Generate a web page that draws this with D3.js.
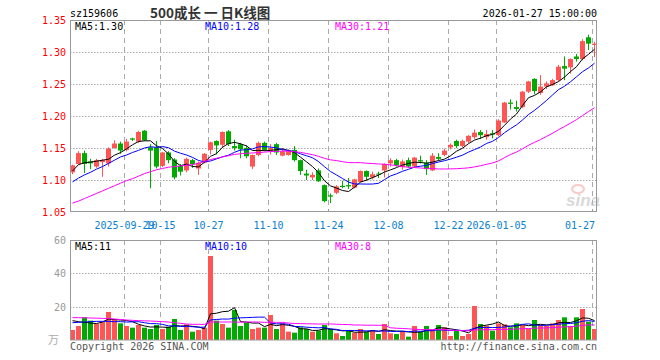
<!DOCTYPE html>
<html><head><meta charset="utf-8">
<script src="https://cdn.jsdelivr.net/npm/d3@7"></script>
<style>body{margin:0;background:#fff}svg{display:block}</style>
</head><body><svg id="c" width="660" height="360"></svg>
<script>
const dates = ["2025-09-16","2025-09-17","2025-09-18","2025-09-19","2025-09-22","2025-09-23","2025-09-24","2025-09-25","2025-09-26","2025-09-29","2025-09-30",
"2025-10-09","2025-10-10","2025-10-13","2025-10-14","2025-10-15","2025-10-16","2025-10-17","2025-10-20","2025-10-21","2025-10-22","2025-10-23","2025-10-24","2025-10-27","2025-10-28","2025-10-29","2025-10-30","2025-10-31",
"2025-11-03","2025-11-04","2025-11-05","2025-11-06","2025-11-07","2025-11-10","2025-11-11","2025-11-12","2025-11-13","2025-11-14","2025-11-17","2025-11-18","2025-11-19","2025-11-20","2025-11-21","2025-11-24","2025-11-25","2025-11-26","2025-11-27","2025-11-28",
"2025-12-01","2025-12-02","2025-12-03","2025-12-04","2025-12-05","2025-12-08","2025-12-09","2025-12-10","2025-12-11","2025-12-12","2025-12-15","2025-12-16","2025-12-17","2025-12-18","2025-12-19","2025-12-22","2025-12-23","2025-12-24","2025-12-25","2025-12-26","2025-12-29","2025-12-30","2025-12-31",
"2026-01-05","2026-01-06","2026-01-07","2026-01-08","2026-01-09","2026-01-12","2026-01-13","2026-01-14","2026-01-15","2026-01-16","2026-01-19","2026-01-20","2026-01-21","2026-01-22","2026-01-23","2026-01-26","2026-01-27"];
const opens  = [1.112,1.125,1.142,1.129,1.121,1.128,1.126,1.150,1.157,1.147,1.165,1.160,1.177,1.151,1.151,1.122,1.143,1.132,1.122,1.115,1.131,1.118,1.127,1.147,1.161,1.155,1.176,1.153,1.156,1.150,1.121,1.139,1.158,1.146,1.156,1.138,1.139,1.147,1.131,1.110,1.104,1.115,1.092,1.076,1.080,1.091,1.092,1.088,1.097,1.114,1.104,1.110,1.115,1.126,1.131,1.120,1.131,1.121,1.131,1.127,1.115,1.136,1.139,1.151,1.161,1.153,1.160,1.167,1.175,1.167,1.173,1.170,1.190,1.221,1.214,1.214,1.238,1.258,1.236,1.246,1.248,1.256,1.278,1.276,1.293,1.289,1.323,1.311];
const highs  = [1.124,1.145,1.146,1.133,1.133,1.133,1.151,1.162,1.160,1.164,1.166,1.177,1.178,1.156,1.161,1.144,1.145,1.134,1.125,1.135,1.133,1.129,1.142,1.160,1.162,1.176,1.178,1.163,1.158,1.154,1.140,1.160,1.160,1.156,1.158,1.150,1.148,1.153,1.132,1.116,1.112,1.118,1.093,1.079,1.092,1.099,1.103,1.102,1.115,1.115,1.113,1.113,1.126,1.134,1.133,1.132,1.135,1.136,1.138,1.131,1.142,1.142,1.149,1.157,1.163,1.163,1.170,1.179,1.178,1.178,1.178,1.195,1.222,1.226,1.224,1.239,1.255,1.259,1.264,1.254,1.258,1.280,1.293,1.290,1.297,1.320,1.327,1.316];
const lows   = [1.109,1.124,1.111,1.117,1.119,1.105,1.121,1.149,1.141,1.145,1.161,1.158,1.161,1.087,1.118,1.120,1.126,1.101,1.107,1.112,1.119,1.108,1.126,1.140,1.140,1.150,1.153,1.146,1.134,1.134,1.117,1.137,1.145,1.140,1.139,1.137,1.138,1.129,1.108,1.100,1.100,1.097,1.065,1.064,1.078,1.087,1.086,1.087,1.096,1.099,1.101,1.103,1.104,1.121,1.121,1.116,1.119,1.119,1.126,1.108,1.114,1.131,1.137,1.148,1.150,1.151,1.158,1.164,1.164,1.163,1.165,1.168,1.189,1.210,1.207,1.212,1.236,1.234,1.233,1.242,1.247,1.254,1.256,1.266,1.285,1.287,1.303,1.292];
const closes = [1.123,1.142,1.125,1.126,1.131,1.131,1.149,1.157,1.146,1.160,1.163,1.175,1.162,1.146,1.121,1.143,1.131,1.104,1.113,1.133,1.125,1.127,1.141,1.159,1.154,1.175,1.156,1.150,1.148,1.137,1.139,1.158,1.147,1.150,1.143,1.145,1.145,1.131,1.114,1.107,1.108,1.098,1.067,1.074,1.090,1.089,1.090,1.101,1.114,1.105,1.109,1.109,1.125,1.131,1.123,1.129,1.121,1.135,1.129,1.117,1.138,1.133,1.146,1.155,1.153,1.161,1.169,1.174,1.170,1.172,1.171,1.193,1.221,1.219,1.211,1.238,1.254,1.239,1.246,1.251,1.256,1.277,1.274,1.289,1.289,1.317,1.313,1.313];
const volumes = [6.0,8.4,13.6,11.6,9.6,11.0,16.8,12.4,10.0,8.4,7.4,9.0,7.4,6.6,9.0,6.6,8.0,12.6,6.0,9.4,5.0,6.0,7.4,50.4,11.6,9.6,7.4,18.0,8.4,10.4,6.6,7.4,7.4,15.0,6.6,10.0,5.0,4.4,7.6,6.6,5.0,5.6,9.0,6.6,4.0,2.4,6.0,4.4,6.6,5.0,6.0,3.6,9.6,4.0,3.6,5.0,2.0,8.4,5.0,8.4,6.0,9.0,7.6,2.4,5.6,2.4,3.6,20.4,9.6,8.6,5.6,10.0,9.4,7.6,10.0,9.0,7.0,12.0,9.0,8.4,10.0,12.0,13.6,8.4,13.6,18.6,11.0,6.6];
// moving-average values for days before enough history exists
const ma5Head  = [1.114,1.124,1.127,1.128];
const ma10Head = [1.097,1.103,1.108,1.112,1.117,1.121,1.126,1.131,1.136];
const ma30Head = [1.064,1.067,1.071,1.075,1.079,1.083,1.087,1.091,1.095,1.099,1.102,1.106,1.110,1.113,1.116,1.118,1.120,1.121,1.122,1.123,1.124,1.126,1.129,1.132,1.134,1.136,1.138,1.140,1.141];
const volMa5Head  = [11.6,11.0,10.6,10.2];
const volMa10Head = [10.4,10.6,10.8,11.0,11.2,11.2,11.2,11.0,11.0];
const volMa30Head = [13.4,13.4,13.3,13.2,13.1,13.0,12.8,12.6,12.3,12.0,11.8,11.6,11.5,11.4,11.2,11.0,10.8,10.4,10.0,9.6,9.4,9.4,9.4,10.8,10.8,10.8,10.8,10.8,10.7];
const priceTicks = [1.35,1.30,1.25,1.20,1.15,1.10,1.05];
const volTicks = [60,40,20];
const xTickDates  = ["2025-09-29","2025-10-15","2025-10-27","2025-11-10","2025-11-24","2025-12-08","2025-12-22","2026-01-05","2026-01-27"];
const xTickLabels = ["2025-09-29","10-15","10-27","11-10","11-24","12-08","12-22","2026-01-05","01-27"];
const codeText = "sz159606", titleText = "500成长 一 日K线图", timeText = "2026-01-27 15:00:00";
const priceMaLabels = ["MA5:1.30","MA10:1.28","MA30:1.21"];
const volMaLabels = ["MA5:11","MA10:10","MA30:8"];
const volUnit = "万";

const L = 70, R = 597, T = 20, B = 212, VT = 240, VB = 340;
const RED = "#ff5555", GREEN = "#00aa00", MAC = ["#000000","#0000ff","#ff00ff"];
const MONO = "'DejaVu Sans Mono', monospace";

const svg = d3.select("#c");
const x = d3.scalePoint().domain(dates).range([72.5, 594.5]);
const y = d3.scaleLinear().domain([1.05, 1.35]).range([B, T]);
const yv = d3.scaleLinear().domain([0, 60]).range([VB, VT]);

function ma(vals, n, head) {
  return vals.map((v, i) => i < n - 1 ? head[i] : d3.mean(vals.slice(i - n + 1, i + 1)));
}

// grids
const g = svg.append("g");
priceTicks.slice(1, -1).forEach(t => {
  const yy = Math.round(y(t)) + 0.5;
  g.append("line").attr("x1", L).attr("x2", R).attr("y1", yy).attr("y2", yy)
    .attr("stroke", "#aaa").attr("stroke-dasharray", "1.5,1.5");
});
volTicks.slice(1).forEach(t => {
  const yy = Math.round(yv(t)) + 0.5;
  g.append("line").attr("x1", L).attr("x2", R).attr("y1", yy).attr("y2", yy)
    .attr("stroke", "#aaa").attr("stroke-dasharray", "1.5,1.5");
});
xTickDates.forEach(d => {
  const xx = Math.floor(x(d) - 2) + 0.5;
  [[T, B], [VT, VB]].forEach(([a, b]) => {
    g.append("line").attr("x1", xx).attr("x2", xx).attr("y1", a).attr("y2", b)
      .attr("stroke", "#aaa").attr("stroke-dasharray", "5,4");
  });
});

// watermark
const wm = svg.append("g").attr("opacity", 0.55);
wm.append("ellipse").attr("cx", 578).attr("cy", 189).attr("rx", 6).attr("ry", 4).attr("fill", "none").attr("stroke", "#f4a0a0").attr("stroke-width", 2);
wm.append("text").attr("x", 566).attr("y", 206).attr("font-family", "Arial, 'Liberation Sans', sans-serif")
  .attr("font-size", 17).attr("font-weight", "bold").attr("font-style", "italic").attr("fill", "#bbb").text("sina");

// candles
const data = dates.map((d, i) => ({ d, o: opens[i], h: highs[i], l: lows[i], c: closes[i], v: volumes[i] }));
const cg = svg.append("g");
data.forEach(k => {
  const col = k.c >= k.o ? RED : GREEN;
  cg.append("line").attr("x1", x(k.d)).attr("x2", x(k.d)).attr("y1", y(k.h)).attr("y2", y(k.l)).attr("stroke", col);
  const top = y(Math.max(k.o, k.c)), bot = y(Math.min(k.o, k.c));
  cg.append("rect").attr("x", x(k.d) - 2.5).attr("width", 5)
    .attr("y", top).attr("height", Math.max(1, bot - top)).attr("fill", col);
});

// volume bars
const vg = svg.append("g");
data.forEach(k => {
  vg.append("rect").attr("x", x(k.d) - 2.5).attr("width", 5)
    .attr("y", yv(k.v)).attr("height", VB - yv(k.v)).attr("fill", k.c >= k.o ? RED : GREEN);
});

// MA lines
const priceMAs = [ma(closes, 5, ma5Head), ma(closes, 10, ma10Head), ma(closes, 30, ma30Head)];
const volMAs = [ma(volumes, 5, volMa5Head), ma(volumes, 10, volMa10Head), ma(volumes, 30, volMa30Head)];
const lp = d3.line().x((d, i) => x(dates[i])).y(d => y(d));
const lv = d3.line().x((d, i) => x(dates[i])).y(d => yv(d));
priceMAs.forEach((s, j) => svg.append("path").attr("d", lp(s)).attr("fill", "none").attr("stroke", MAC[j]).attr("stroke-width", 1));
volMAs.forEach((s, j) => svg.append("path").attr("d", lv(s)).attr("fill", "none").attr("stroke", MAC[j]).attr("stroke-width", 1));

// frames
svg.append("rect").attr("x", L + 0.5).attr("y", T + 0.5).attr("width", R - L - 1).attr("height", B - T - 1)
  .attr("fill", "none").attr("stroke", "#999");
svg.append("rect").attr("x", L + 0.5).attr("y", VT + 0.5).attr("width", R - L - 1).attr("height", VB - VT - 0.5)
  .attr("fill", "none").attr("stroke", "#999");
// bottom ticks
xTickDates.forEach(d => {
  const xx = Math.floor(x(d) - 2) + 0.5;
  svg.append("line").attr("x1", xx).attr("x2", xx).attr("y1", B - 3).attr("y2", B).attr("stroke", "#999");
});

// texts
const txt = (xx, yy, s, o = {}) => svg.append("text").attr("x", xx).attr("y", yy)
  .attr("font-family", o.font || MONO).attr("font-size", o.size || 10)
  .attr("fill", o.fill || "#000").attr("text-anchor", o.anchor || "start")
  .attr("font-weight", o.weight || "normal").text(s);

txt(L, 17, codeText);
txt(150, 17.5, titleText, { font: "'Noto Sans CJK SC', sans-serif", size: 13.5, fill: "#333", weight: "bold" });
txt(R, 17, timeText, { anchor: "end" });

priceTicks.forEach(t => txt(66, y(t) + 4, t.toFixed(2), { fill: "#ff0000", anchor: "end" }));
volTicks.forEach(t => txt(66, yv(t) + 4, String(t), { fill: "#999", anchor: "end" }));
txt(48, 344, volUnit, { font: "'Noto Sans CJK SC', sans-serif", size: 11, fill: "#aaa" });

const maX = [75, 205, 335];
priceMaLabels.forEach((s, j) => txt(maX[j], 30, s, { fill: MAC[j] }));
volMaLabels.forEach((s, j) => txt(maX[j], 250, s, { fill: MAC[j] }));

xTickDates.forEach((d, j) => {
  const last = j === xTickDates.length - 1;
  const xx = last ? 595 : Math.floor(x(d) - 2) + 0.5;
  txt(xx, 229, xTickLabels[j], { fill: "#0a80d0", anchor: last ? "end" : "middle" });
});

txt(L, 350, "Copyright 2026 SINA.COM", { fill: "#555" });
txt(R, 350, "http://finance.sina.com.cn", { fill: "#555", anchor: "end" });
</script></body></html>
